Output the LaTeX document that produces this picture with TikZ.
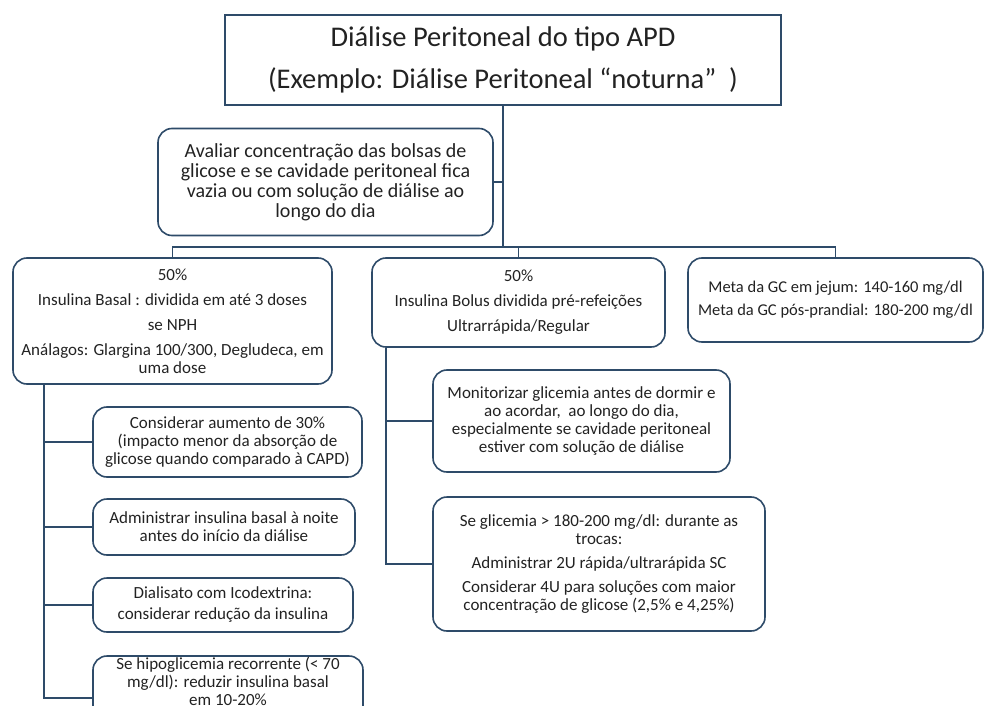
\documentclass[tikz,border=0pt]{standalone}
\usepackage{fontspec}
\setmainfont{Carlito}
\definecolor{linecol}{HTML}{2E4B69}
\definecolor{textcol}{HTML}{222222}
\begin{document}
\begin{tikzpicture}[x=1pt, y=-1pt,
    txt/.style={align=center, text=textcol, font=\fontsize{17}{18}\selectfont},
    box/.style={txt, draw=linecol, line width=1.6pt, rounded corners=14pt, inner sep=0pt},
    link/.style={draw=linecol, line width=1.6pt}]
    \useasboundingbox (0,0) rectangle (985,706);

    % Title box
    \node[draw=linecol, line width=1.6pt, minimum width=556, minimum height=90, align=center,
          text=textcol, font=\fontsize{28.5}{42}\selectfont] (title) at (503,60)
        {Diálise Peritoneal do tipo APD\\(Exemplo: Diálise Peritoneal “noturna”\ \ )};

    % Evaluation box
    \node[box, minimum width=335, minimum height=107, font=\fontsize{20}{20}\selectfont] (aval) at (325.5,182)
        {Avaliar concentração das bolsas de\\glicose e se cavidade peritoneal fica\\vazia ou com solução de diálise ao\\longo do dia};

    % Three branches
    \node[box, minimum width=319, minimum height=126] (basal) at (172.5,321)
        {50\%\\[7pt]Insulina Basal : dividida em até 3 doses\\[7pt]se NPH\\[7pt]Análagos: Glargina 100/300, Degludeca, em\\uma dose};
    \node[box, minimum width=293, minimum height=89] (bolus) at (518.5,302.5)
        {50\%\\[7pt]Insulina Bolus dividida pré-refeições\\[7pt]Ultrarrápida/Regular};
    \node[box, minimum width=295, minimum height=84, font=\fontsize{16.5}{18}\selectfont] (meta) at (835.5,300)
        {Meta da GC em jejum: 140-160 mg/dl\\[5pt]Meta da GC pós-prandial: 180-200 mg/dl};

    % Basal children
    \node[box, minimum width=269, minimum height=70] (cons) at (227.5,442)
        {Considerar aumento de 30\%\\(impacto menor da absorção de\\glicose quando comparado à CAPD)};
    \node[box, minimum width=262, minimum height=56] (admb) at (224,527)
        {Administrar insulina basal à noite\\antes do início da diálise};
    \node[box, minimum width=260, minimum height=54] (icod) at (223,605)
        {Dialisato com Icodextrina:\\[3pt]considerar redução da insulina};
    \node[box, minimum width=270, minimum height=84,
          label={[txt, yshift=17pt]center:Se hipoglicemia recorrente (< 70\\mg/dl): reduzir insulina basal\\em 10-20\%}] (hipo) at (228,698) {};

    % Bolus children
    \node[box, minimum width=297, minimum height=102] (moni) at (581.5,421)
        {Monitorizar glicemia antes de dormir e\\ao acordar,\ \ ao longo do dia,\\especialmente se cavidade peritoneal\\estiver com solução de diálise};
    \node[box, minimum width=332, minimum height=134] (hiper) at (599,564)
        {Se glicemia > 180-200 mg/dl: durante as\\trocas:\\[6pt]Administrar 2U rápida/ultrarápida SC\\[6pt]Considerar 4U para soluções com maior\\concentração de glicose (2,5\% e 4,25\%)};

    % Connectors
    \coordinate (bus) at (503,247);
    \draw[link] (title.south) -- (title.south |- bus);
    \draw[link] (aval.east) -- (aval.east -| title.south);
    \draw[link] (basal.north) -- (basal.north |- bus) -- (meta.north |- bus) -- (meta.north);
    \draw[link] (bolus.north) -- (bolus.north |- bus);

    \coordinate (ltop) at ([xshift=32pt]basal.south west);
    \draw[link] (ltop) |- (hipo.west);
    \foreach \n in {cons,admb,icod}
        \draw[link] (ltop |- \n.west) -- (\n.west);

    \coordinate (mtop) at ([xshift=15pt]bolus.south west);
    \draw[link] (mtop) |- (hiper.west);
    \draw[link] (mtop |- moni.west) -- (moni.west);
\end{tikzpicture}
\end{document}
